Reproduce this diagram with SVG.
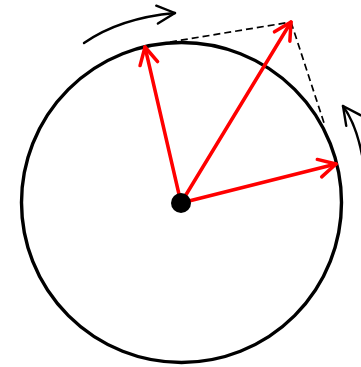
<svg xmlns="http://www.w3.org/2000/svg" width="361" height="367" viewBox="0 0 361 367">
<defs>
<style>
.red{stroke:#ff0000;stroke-width:3.5;fill:none;stroke-linecap:round;stroke-linejoin:round}
.blk{stroke:#000;stroke-width:2.4;fill:none;stroke-linecap:round;stroke-linejoin:round}
.dash{stroke:#000;stroke-width:1.7;fill:none;stroke-dasharray:7,4}
</style>
<marker id="ra" markerUnits="userSpaceOnUse" markerWidth="40" markerHeight="40" refX="0" refY="0" viewBox="-20 -20 40 40" orient="auto" overflow="visible">
<path d="M -17 -9 L 0 0 L -17 9" stroke="#ff0000" stroke-width="3.5" fill="none" stroke-linecap="round" stroke-linejoin="round"/>
</marker>
<marker id="ba" markerUnits="userSpaceOnUse" markerWidth="40" markerHeight="40" refX="0" refY="0" viewBox="-20 -20 40 40" orient="auto" overflow="visible">
<path d="M -18 -9 L 0 0 L -18 9" stroke="#000" stroke-width="2.4" fill="none" stroke-linecap="round" stroke-linejoin="round"/>
</marker>
</defs>
<g id="circle">
<circle cx="181.5" cy="202.5" r="160" fill="none" stroke="#000" stroke-width="3.4"/>
</g>
<g id="connectors">
<line class="dash" x1="170" y1="42" x2="291" y2="22"/>
<line class="dash" x1="291" y1="22" x2="325" y2="126"/>
<line class="red" x1="181" y1="203" x2="145" y2="47" marker-end="url(#ra)"/>
<line class="red" x1="181" y1="203" x2="291" y2="22" marker-end="url(#ra)"/>
<line class="red" x1="181" y1="203" x2="336" y2="164" marker-end="url(#ra)"/>
<path class="blk" d="M 84 43 Q 120 18 175 13" marker-end="url(#ba)"/>
<path class="blk" d="M 362 155 Q 356 124 343 106" marker-end="url(#ba)"/>
</g>
<g id="center">
<circle cx="181" cy="203" r="10" fill="#000"/>
</g>
</svg>
